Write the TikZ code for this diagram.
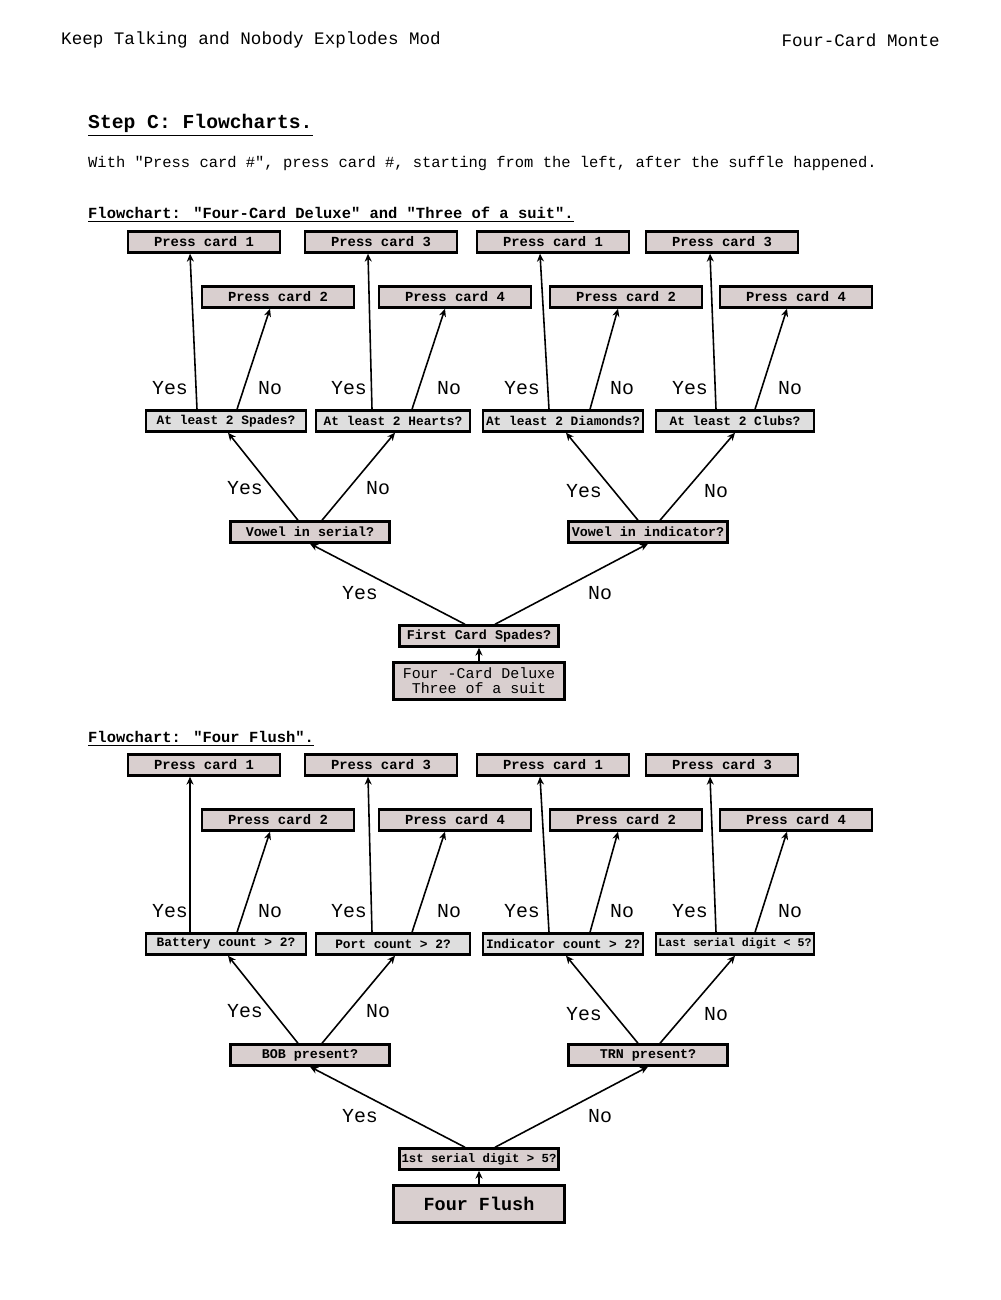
\documentclass[tikz,border=0pt]{standalone}
\usepackage{fontspec}
\setmainfont{Liberation Mono}
\setmonofont{Liberation Mono}
\usetikzlibrary{calc,arrows.meta}

\definecolor{cardfill}{HTML}{D9CFCF}
\definecolor{askfill}{HTML}{DEDEDE}

\tikzstyle{card}=[draw,black,line width=1.4pt,fill=cardfill,minimum width=3.04cm,minimum height=0.42cm,inner sep=0pt,font=\fontsize{7.9}{9}\selectfont\bfseries]
\tikzstyle{ask}=[card,fill=askfill,minimum width=3.2cm,font=\fontsize{7.3}{9}\selectfont\bfseries]
\tikzstyle{pick}=[card,minimum width=3.18cm,font=\fontsize{7.6}{9}\selectfont\bfseries]
\tikzstyle{start}=[card,line width=1.8pt,minimum width=3.42cm,minimum height=0.74cm,align=center]
\tikzstyle{answer}=[font=\fontsize{11.3}{12}\selectfont]
\tikzstyle{edge}=[line width=0.9pt,-{Stealth[length=4.5pt,width=4pt]}]
\newcommand{\qt}{\textquotedbl}

\begin{document}
\begin{tikzpicture}[x=0.02cm,y=-0.02cm]
    \useasboundingbox (0,0) rectangle (1000,1300);

    % page header
    \node (head)[anchor=west,font=\fontsize{10}{12}\selectfont] at (55,40) {Keep Talking and Nobody Explodes Mod};
    \node (mod)[anchor=east,font=\fontsize{10}{12}\selectfont] at (946,40) {Four-Card Monte};
    \node (step)[anchor=west,font=\fontsize{11.2}{13}\selectfont\bfseries] at (82,125) {\underline{Step C: Flowcharts.}};
    \node (note)[anchor=west,font=\fontsize{8.8}{11}\selectfont] at (82,164) {With \qt Press card \#\qt, press card \#, starting from the left, after the suffle happened.};

    % flowchart 1
    \node (title)[anchor=west,font=\fontsize{8.8}{11}\selectfont\bfseries] at (82,215) {\underline{Flowchart: \qt Four-Card Deluxe\qt\ and \qt Three of a suit\qt.}};

    \node (p1)[card] at (204,242) {Press card 1};
    \node (p3)[card] at (381,242) {Press card 3};
    \node (p5)[card] at (553,242) {Press card 1};
    \node (p7)[card] at (722,242) {Press card 3};
    \node (p2)[card] at (278,297) {Press card 2};
    \node (p4)[card] at (455,297) {Press card 4};
    \node (p6)[card] at (626,297) {Press card 2};
    \node (p8)[card] at (796,297) {Press card 4};

    \node (q1)[ask] at (226,421) {At least 2 Spades?};
    \node (q2)[ask,minimum width=3.08cm] at (393,421) {At least 2 Hearts?};
    \node (q3)[ask] at (563,421) {At least 2 Diamonds?};
    \node (q4)[ask,minimum width=3.16cm] at (735,421) {At least 2 Clubs?};

    \node (v1)[pick] at (310,532) {Vowel in serial?};
    \node (v2)[pick] at (648,532) {Vowel in indicator?};
    \node (f)[pick] at (479,636) {First Card Spades?};
    \node (s)[start,font=\fontsize{8.5}{8.6}\selectfont] at (479,681) {Four -Card Deluxe\\Three of a suit};

    \node (y1)[answer] at (170,388) {Yes};
    \node (n1)[answer] at (270,388) {No};
    \node (y2)[answer] at (349,388) {Yes};
    \node (n2)[answer] at (449,388) {No};
    \node (y3)[answer] at (522,388) {Yes};
    \node (n3)[answer] at (622,388) {No};
    \node (y4)[answer] at (690,388) {Yes};
    \node (n4)[answer] at (790,388) {No};
    \node (y5)[answer] at (245,488) {Yes};
    \node (n5)[answer] at (378,488) {No};
    \node (y6)[answer] at (584,491) {Yes};
    \node (n6)[answer] at (716,491) {No};
    \node (y7)[answer] at (360,593) {Yes};
    \node (n7)[answer] at (600,593) {No};

    \draw[edge] ($(q1.north)+(-29,0)$) -- ($(p1.south)+(-14,0)$);
    \draw[edge] ($(q1.north)+(11,0)$) -- ($(p2.south)+(-8,0)$);
    \draw[edge] ($(q2.north)+(-21,0)$) -- ($(p3.south)+(-13,0)$);
    \draw[edge] ($(q2.north)+(19,0)$) -- ($(p4.south)+(-10,0)$);
    \draw[edge] ($(q3.north)+(-14,0)$) -- ($(p5.south)+(-13,0)$);
    \draw[edge] ($(q3.north)+(27,0)$) -- ($(p6.south)+(-8,0)$);
    \draw[edge] ($(q4.north)+(-19,0)$) -- ($(p7.south)+(-12,0)$);
    \draw[edge] ($(q4.north)+(20,0)$) -- ($(p8.south)+(-9,0)$);

    \draw[edge] ($(v1.north)+(-12,0)$) -- ($(q1.south)+(2,0)$);
    \draw[edge] ($(v1.north)+(12,0)$) -- ($(q2.south)+(2,0)$);
    \draw[edge] ($(v2.north)+(-10,0)$) -- ($(q3.south)+(3,0)$);
    \draw[edge] ($(v2.north)+(12,0)$) -- (q4.south);

    \draw[edge] ($(f.north)+(-14,0)$) -- (v1.south);
    \draw[edge] ($(f.north)+(16,0)$) -- (v2.south);
    \draw[edge] (s) -- (f);

    % flowchart 2
    \node (titleb)[anchor=west,font=\fontsize{8.8}{11}\selectfont\bfseries] at (82,739) {\underline{Flowchart: \qt Four Flush\qt.}};

    \node (pb1)[card] at (204,765) {Press card 1};
    \node (pb3)[card] at (381,765) {Press card 3};
    \node (pb5)[card] at (553,765) {Press card 1};
    \node (pb7)[card] at (722,765) {Press card 3};
    \node (pb2)[card] at (278,820) {Press card 2};
    \node (pb4)[card] at (455,820) {Press card 4};
    \node (pb6)[card] at (626,820) {Press card 2};
    \node (pb8)[card] at (796,820) {Press card 4};

    \node (qb1)[ask] at (226,944) {Battery count > 2?};
    \node (qb2)[ask,minimum width=3.08cm] at (393,944) {Port count > 2?};
    \node (qb3)[ask] at (563,944) {Indicator count > 2?};
    \node (qb4)[ask,minimum width=3.16cm,font=\fontsize{6.6}{8}\selectfont\bfseries] at (735,944) {Last serial digit < 5?};

    \node (vb1)[pick] at (310,1055) {BOB present?};
    \node (vb2)[pick] at (648,1055) {TRN present?};
    \node (fb)[pick,font=\fontsize{7}{8}\selectfont\bfseries] at (479,1159) {1st serial digit > 5?};
    \node (sb)[start,font=\fontsize{10.5}{12}\selectfont\bfseries] at (479,1204) {Four Flush};

    \node (yb1)[answer] at (170,911) {Yes};
    \node (nb1)[answer] at (270,911) {No};
    \node (yb2)[answer] at (349,911) {Yes};
    \node (nb2)[answer] at (449,911) {No};
    \node (yb3)[answer] at (522,911) {Yes};
    \node (nb3)[answer] at (622,911) {No};
    \node (yb4)[answer] at (690,911) {Yes};
    \node (nb4)[answer] at (790,911) {No};
    \node (yb5)[answer] at (245,1011) {Yes};
    \node (nb5)[answer] at (378,1011) {No};
    \node (yb6)[answer] at (584,1014) {Yes};
    \node (nb6)[answer] at (716,1014) {No};
    \node (yb7)[answer] at (360,1116) {Yes};
    \node (nb7)[answer] at (600,1116) {No};

    \draw[edge] ($(qb1.north)+(-36,0)$) -- ($(pb1.south)+(-14,0)$);
    \draw[edge] ($(qb1.north)+(11,0)$) -- ($(pb2.south)+(-8,0)$);
    \draw[edge] ($(qb2.north)+(-21,0)$) -- ($(pb3.south)+(-13,0)$);
    \draw[edge] ($(qb2.north)+(19,0)$) -- ($(pb4.south)+(-10,0)$);
    \draw[edge] ($(qb3.north)+(-14,0)$) -- ($(pb5.south)+(-13,0)$);
    \draw[edge] ($(qb3.north)+(27,0)$) -- ($(pb6.south)+(-8,0)$);
    \draw[edge] ($(qb4.north)+(-19,0)$) -- ($(pb7.south)+(-12,0)$);
    \draw[edge] ($(qb4.north)+(20,0)$) -- ($(pb8.south)+(-9,0)$);

    \draw[edge] ($(vb1.north)+(-12,0)$) -- ($(qb1.south)+(2,0)$);
    \draw[edge] ($(vb1.north)+(12,0)$) -- ($(qb2.south)+(2,0)$);
    \draw[edge] ($(vb2.north)+(-10,0)$) -- ($(qb3.south)+(3,0)$);
    \draw[edge] ($(vb2.north)+(12,0)$) -- (qb4.south);

    \draw[edge] ($(fb.north)+(-14,0)$) -- (vb1.south);
    \draw[edge] ($(fb.north)+(16,0)$) -- (vb2.south);
    \draw[edge] (sb) -- (fb);
\end{tikzpicture}
\end{document}
